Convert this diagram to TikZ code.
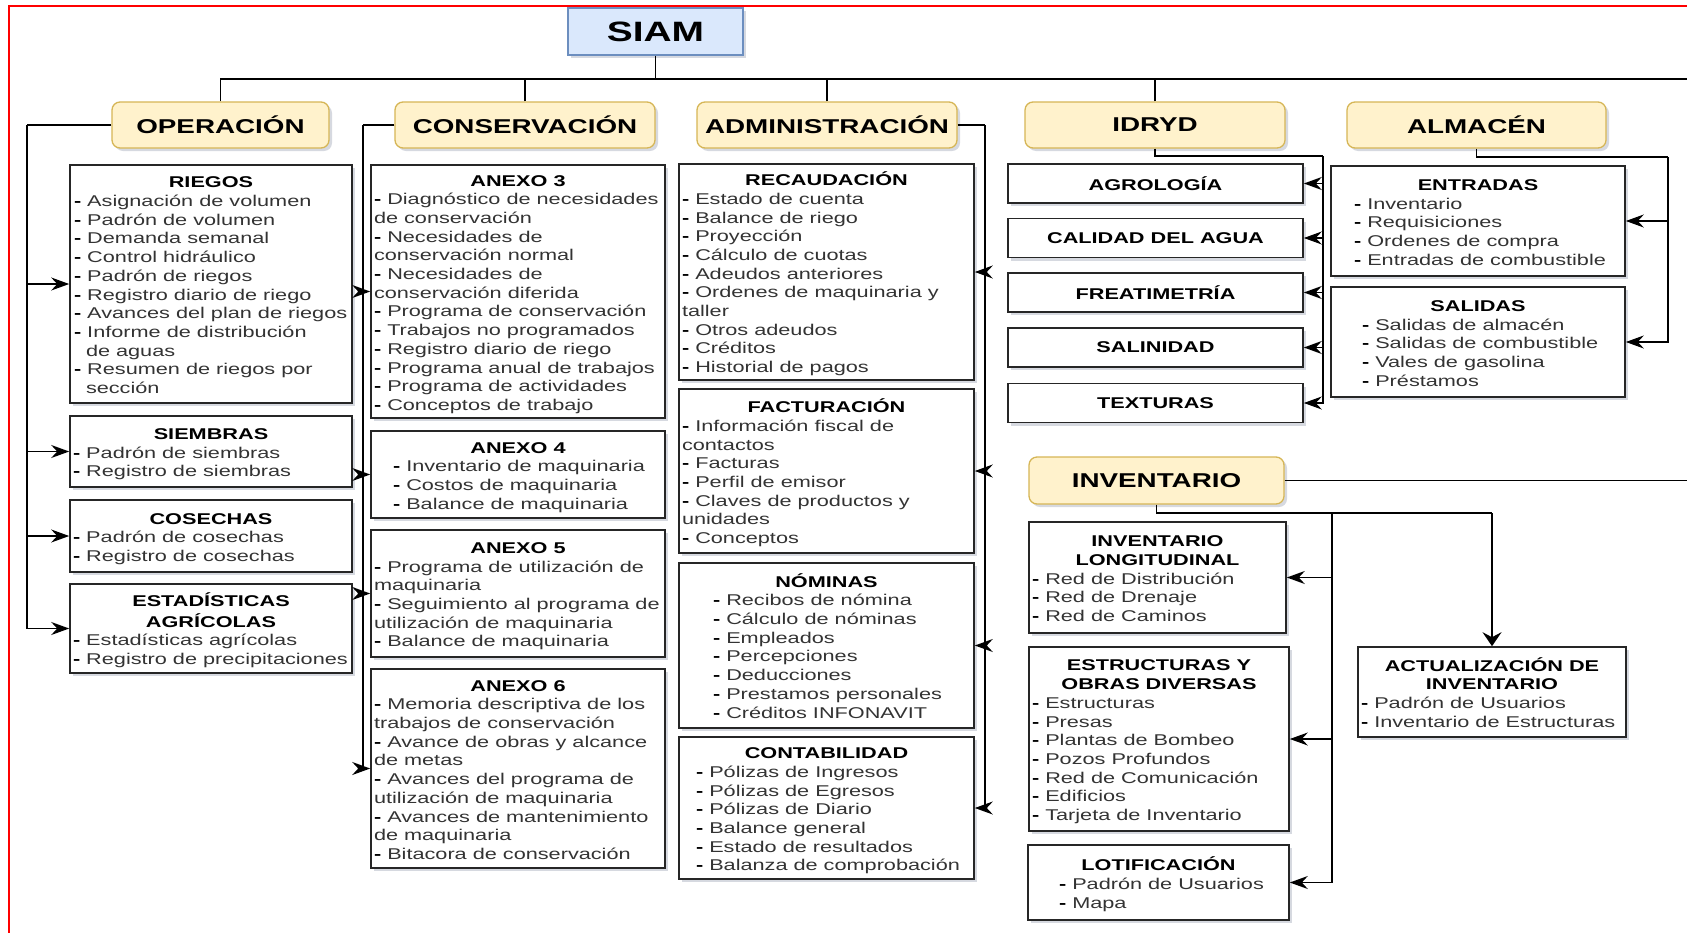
\documentclass[tikz,border=0pt]{standalone}
\usepackage{fontspec}
\setmainfont{Liberation Sans}[FakeStretch=1.39]
\usetikzlibrary{arrows.meta,shadows}
\definecolor{hdrfill}{HTML}{FFF2CC}
\definecolor{hdrdraw}{HTML}{D6B656}
\definecolor{topfill}{HTML}{DAE8FC}
\definecolor{topdraw}{HTML}{6C8EBF}
\definecolor{itemgray}{HTML}{333333}
\definecolor{shadowc}{HTML}{8C94A8}
\newlength\bxind
\newcommand\bx[3]{\vbox{\hsize=#1pt\setlength\bxind{#2pt}\kern6pt#3}}
\newcommand\bxt[1]{\hbox to\hsize{\hss\strut\bfseries #1\hss}}
\newcommand\bxi[1]{\hbox{\hspace*{\bxind}\strut\textbf{-} {\color{itemgray}#1}}}
\newcommand\bxc[2][0pt]{\hbox{\hspace*{\dimexpr\bxind+#1\relax}\strut{\color{itemgray}#2}}}
\tikzset{
  shad/.style={drop shadow={shadow xshift=3pt,shadow yshift=-3pt,opacity=0.35,fill=shadowc}},
  topbox/.style={draw=topdraw, fill=topfill, line width=1.3pt, shad,
    font=\fontsize{28}{32}\selectfont\bfseries, inner sep=0pt,
    minimum width=175pt, minimum height=47pt},
  hdr/.style={draw=hdrdraw, fill=hdrfill, line width=1.3pt, rounded corners=8pt, shad,
    font=\fontsize{20}{24}\selectfont\bfseries, inner sep=0pt, minimum height=46pt},
  sub/.style={draw=black!85, fill=white, line width=1.6pt, shad, inner xsep=3pt, inner ysep=0pt,
    font=\fontsize{15.6}{18.7}\selectfont},
  lbl/.style={draw=black!85, fill=white, line width=1.6pt, shad, inner sep=0pt,
    font=\fontsize{15.6}{18.7}\selectfont\bfseries, minimum width=295pt, minimum height=39pt},
  conn/.style={line width=1.6pt, black},
  arr/.style={conn, -{Stealth[length=18pt,width=13pt,inset=6pt]}},
  arrv/.style={conn, -{Stealth[length=14pt,width=19pt,inset=5pt]}},
}
\begin{document}
\begin{tikzpicture}[x=1pt,y=-1pt]
\useasboundingbox (0,0) rectangle (1687,932);
\fill[white] (0,0) rectangle (1687,932);
\draw[red, line width=2pt] (9,945) -- (9,6) -- (1700,6);

% top and headers
\node[topbox] (siam) at (655.5,31.5) {SIAM};
\node[hdr, minimum width=217pt] (op) at (220.5,125) {OPERACIÓN};
\node[hdr, minimum width=260pt] (cons) at (525,125) {CONSERVACIÓN};
\node[hdr, minimum width=260pt] (adm) at (827,125) {ADMINISTRACIÓN};
\node[hdr, minimum width=260pt] (idryd) at (1155,125) {IDRYD};
\node[hdr, minimum width=259pt] (alm) at (1476.5,125) {ALMACÉN};
\node[hdr, minimum width=255pt, minimum height=47pt] (inv) at (1156.5,480.5) {INVENTARIO};

% OPERACION
\node[sub, minimum width=282pt, minimum height=238pt] (riegos) at (211,284) {\bx{276}{1}{%
\bxt{RIEGOS}\bxi{Asignación de volumen}\bxi{Padrón de volumen}\bxi{Demanda semanal}%
\bxi{Control hidráulico}\bxi{Padrón de riegos}\bxi{Registro diario de riego}%
\bxi{Avances del plan de riegos}\bxi{Informe de distribución}\bxc[12pt]{de aguas}%
\bxi{Resumen de riegos por}\bxc[12pt]{sección}}};
\node[sub, minimum width=282pt, minimum height=71pt] (siembras) at (211,451.5) {\bx{276}{0}{%
\bxt{SIEMBRAS}\bxi{Padrón de siembras}\bxi{Registro de siembras}}};
\node[sub, minimum width=282pt, minimum height=72pt] (cosechas) at (211,536) {\bx{276}{0}{%
\bxt{COSECHAS}\bxi{Padrón de cosechas}\bxi{Registro de cosechas}}};
\node[sub, minimum width=282pt, minimum height=89pt] (estad) at (211,628.5) {\bx{276}{0}{%
\bxt{ESTADÍSTICAS}\bxt{AGRÍCOLAS}\bxi{Estadísticas agrícolas}\bxi{Registro de precipitaciones}}};

% CONSERVACION
\node[sub, minimum width=294pt, minimum height=253pt] (anexo3) at (518,291.5) {\bx{288}{0}{%
\bxt{ANEXO 3}\bxi{Diagnóstico de necesidades}\bxc{de conservación}\bxi{Necesidades de}%
\bxc{conservación normal}\bxi{Necesidades de}\bxc{conservación diferida}%
\bxi{Programa de conservación}\bxi{Trabajos no programados}\bxi{Registro diario de riego}%
\bxi{Programa anual de trabajos}\bxi{Programa de actividades}\bxi{Conceptos de trabajo}}};
\node[sub, minimum width=294pt, minimum height=87pt] (anexo4) at (518,474.5) {\bx{288}{19}{%
\bxt{ANEXO 4}\bxi{Inventario de maquinaria}\bxi{Costos de maquinaria}\bxi{Balance de maquinaria}}};
\node[sub, minimum width=294pt, minimum height=127pt] (anexo5) at (518,593.5) {\bx{288}{0}{%
\bxt{ANEXO 5}\bxi{Programa de utilización de}\bxc{maquinaria}\bxi{Seguimiento al programa de}%
\bxc{utilización de maquinaria}\bxi{Balance de maquinaria}}};
\node[sub, minimum width=294pt, minimum height=199pt] (anexo6) at (518,768.5) {\bx{288}{0}{%
\bxt{ANEXO 6}\bxi{Memoria descriptiva de los}\bxc{trabajos de conservación}%
\bxi{Avance de obras y alcance}\bxc{de metas}\bxi{Avances del programa de}%
\bxc{utilización de maquinaria}\bxi{Avances de mantenimiento}\bxc{de maquinaria}%
\bxi{Bitacora de conservación}}};

% ADMINISTRACION
\node[sub, minimum width=295pt, minimum height=216pt] (recaud) at (826.5,272) {\bx{289}{0}{%
\bxt{RECAUDACIÓN}\bxi{Estado de cuenta}\bxi{Balance de riego}\bxi{Proyección}%
\bxi{Cálculo de cuotas}\bxi{Adeudos anteriores}\bxi{Ordenes de maquinaria y}\bxc{taller}%
\bxi{Otros adeudos}\bxi{Créditos}\bxi{Historial de pagos}}};
\node[sub, minimum width=295pt, minimum height=164pt] (fact) at (826.5,471) {\bx{289}{0}{%
\bxt{FACTURACIÓN}\bxi{Información fiscal de}\bxc{contactos}\bxi{Facturas}%
\bxi{Perfil de emisor}\bxi{Claves de productos y}\bxc{unidades}\bxi{Conceptos}}};
\node[sub, minimum width=295pt, minimum height=165pt] (nom) at (826.5,645.5) {\bx{289}{31}{%
\bxt{NÓMINAS}\bxi{Recibos de nómina}\bxi{Cálculo de nóminas}\bxi{Empleados}%
\bxi{Percepciones}\bxi{Deducciones}\bxi{Prestamos personales}\bxi{Créditos INFONAVIT}}};
\node[sub, minimum width=295pt, minimum height=142pt] (contab) at (826.5,808) {\bx{289}{14}{%
\bxt{CONTABILIDAD}\bxi{Pólizas de Ingresos}\bxi{Pólizas de Egresos}\bxi{Pólizas de Diario}%
\bxi{Balance general}\bxi{Estado de resultados}\bxi{Balanza de comprobación}}};

% IDRYD
\node[lbl] (agro) at (1155.5,183.5) {AGROLOGÍA};
\node[lbl] (calidad) at (1155.5,238) {CALIDAD DEL AGUA};
\node[lbl] (freat) at (1155.5,292.5) {FREATIMETRÍA};
\node[lbl] (salin) at (1155.5,347.5) {SALINIDAD};
\node[lbl] (textu) at (1155.5,403) {TEXTURAS};

% ALMACEN
\node[sub, minimum width=294pt, minimum height=110pt] (entradas) at (1478,221) {\bx{288}{20}{%
\bxt{ENTRADAS}\bxi{Inventario}\bxi{Requisiciones}\bxi{Ordenes de compra}\bxi{Entradas de combustible}}};
\node[sub, minimum width=294pt, minimum height=110pt] (salidas) at (1478,342) {\bx{288}{28}{%
\bxt{SALIDAS}\bxi{Salidas de almacén}\bxi{Salidas de combustible}\bxi{Vales de gasolina}\bxi{Préstamos}}};

% INVENTARIO
\node[sub, minimum width=257pt, minimum height=111pt] (invlong) at (1157.5,577.5) {\bx{251}{0}{%
\bxt{INVENTARIO}\bxt{LONGITUDINAL}\bxi{Red de Distribución}\bxi{Red de Drenaje}\bxi{Red de Caminos}}};
\node[sub, minimum width=260pt, minimum height=184pt] (estruct) at (1159,739) {\bx{254}{0}{%
\bxt{ESTRUCTURAS Y}\bxt{OBRAS DIVERSAS}\bxi{Estructuras}\bxi{Presas}\bxi{Plantas de Bombeo}%
\bxi{Pozos Profundos}\bxi{Red de Comunicación}\bxi{Edificios}\bxi{Tarjeta de Inventario}}};
\node[sub, minimum width=261pt, minimum height=75pt] (lotif) at (1158.5,882.5) {\bx{255}{28}{%
\bxt{LOTIFICACIÓN}\bxi{Padrón de Usuarios}\bxi{Mapa}}};
\node[sub, minimum width=268pt, minimum height=90pt] (actual) at (1492,692) {\bx{262}{0}{%
\bxt{ACTUALIZACIÓN DE}\bxt{INVENTARIO}\bxi{Padrón de Usuarios}\bxi{Inventario de Estructuras}}};

% connectors
\coordinate (busc) at (655.5,79);
\coordinate (busR) at (1687,79);
\draw[conn] (siam.south) -- (busc);
\draw[conn] (op.north) |- (busR);
\draw[conn] (cons.north) -- (cons.north |- busc);
\draw[conn] (adm.north) -- (adm.north |- busc);
\draw[conn] (idryd.north) -- (idryd.north |- busc);

\coordinate (opx) at (27,125);
\draw[conn] (op.west) -- (opx);
\foreach \n in {riegos,siembras,cosechas,estad} \draw[arr] (opx) |- (\n.west);

\coordinate (cnx) at (363,125);
\draw[conn] (cons.west) -- (cnx);
\foreach \n in {anexo3,anexo4,anexo5,anexo6} \draw[arr] (cnx) |- (\n.west);

\coordinate (adx) at (985,125);
\draw[conn] (adm.east) -- (adx);
\foreach \n in {recaud,fact,nom,contab} \draw[arr] (adx) |- (\n.east);

\coordinate (idx) at (1323,156);
\draw[conn] (idryd.south) |- (idx);
\foreach \n in {agro,calidad,freat,salin,textu} \draw[arr] (idx) |- (\n.east);

\coordinate (alx) at (1668,157);
\draw[conn] (alm.south) |- (alx);
\foreach \n in {entradas,salidas} \draw[arr] (alx) |- (\n.east);

\coordinate (invR) at (1687,480.5);
\draw[conn] (inv.east) -- (invR);
\coordinate (ivx) at (1332,513);
\coordinate (iva) at (1492,513);
\draw[conn] (inv.south) |- (iva);
\draw[arrv] (iva) -- (actual.north);
\foreach \n in {invlong,estruct,lotif} \draw[arr] (ivx) |- (\n.east);
\end{tikzpicture}
\end{document}
